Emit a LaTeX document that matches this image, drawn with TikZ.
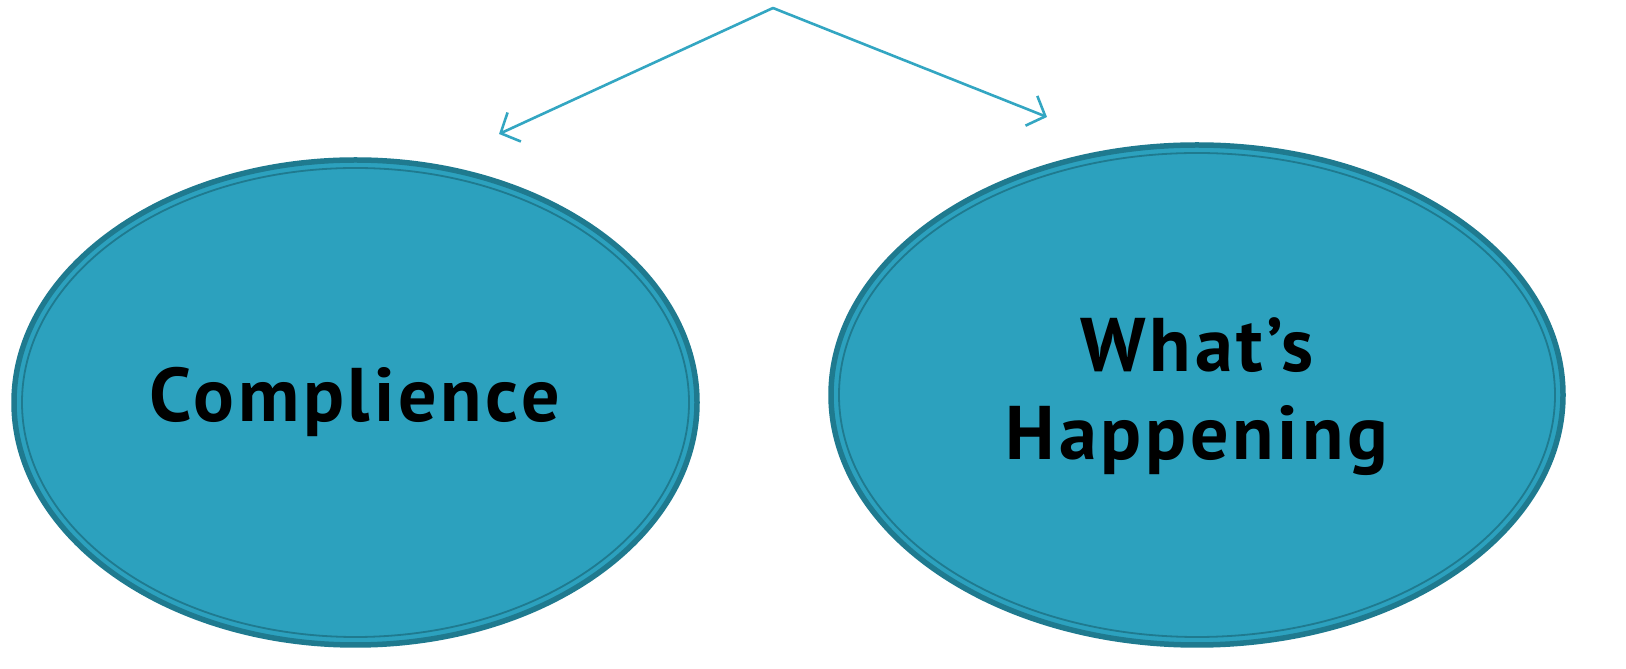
\documentclass[tikz,border=0pt]{standalone}
\usepackage{fontspec}
\setmainfont{PT Sans}[LetterSpace=5]
\usetikzlibrary{shapes.geometric,arrows.meta}
\definecolor{fillc}{HTML}{2CA1BE}
\definecolor{darkc}{HTML}{1F7A8F}
\definecolor{arrc}{HTML}{33A6C2}
\tikzset{
  bubble/.style={ellipse, fill=fillc, draw=darkc, line width=5.5pt, inner sep=0pt},
  innerring/.style={ellipse, draw=darkc, line width=1.8pt, inner sep=0pt},
  label/.style={font=\fontsize{76}{88}\selectfont\bfseries, align=center, text=black},
  conn/.style={draw=arrc, line width=2.6pt, -{Straight Barb[length=15pt,width=32pt,line width=2.6pt]}}
}
\begin{document}
\begin{tikzpicture}[x=1pt,y=1pt]
\useasboundingbox (0,0) rectangle (1626,669);
% left bubble
\node[bubble, minimum width=683, minimum height=485] (c1) at (355.5,266.5) {};
\node[innerring, minimum width=667, minimum height=469] (r1) at (c1) {};
% right bubble
\node[bubble, minimum width=732, minimum height=500] (c2) at (1197,274) {};
\node[innerring, minimum width=716, minimum height=484] (r2) at (c2) {};
% texts
\node[label, anchor=base] (t1) at (355,247) {Complience};
\node[label, anchor=base] (t2) at (1197,297) {What’s};
\node[label, anchor=base] (t3) at (1197,209) {Happening};
% connectors
\coordinate (apex) at (773,661);
\coordinate (e1) at (499,535);
\coordinate (e2) at (1047,552);
\draw[conn, line cap=round] (apex) -- (e1);
\draw[conn, line cap=round] (apex) -- (e2);
\end{tikzpicture}
\end{document}
